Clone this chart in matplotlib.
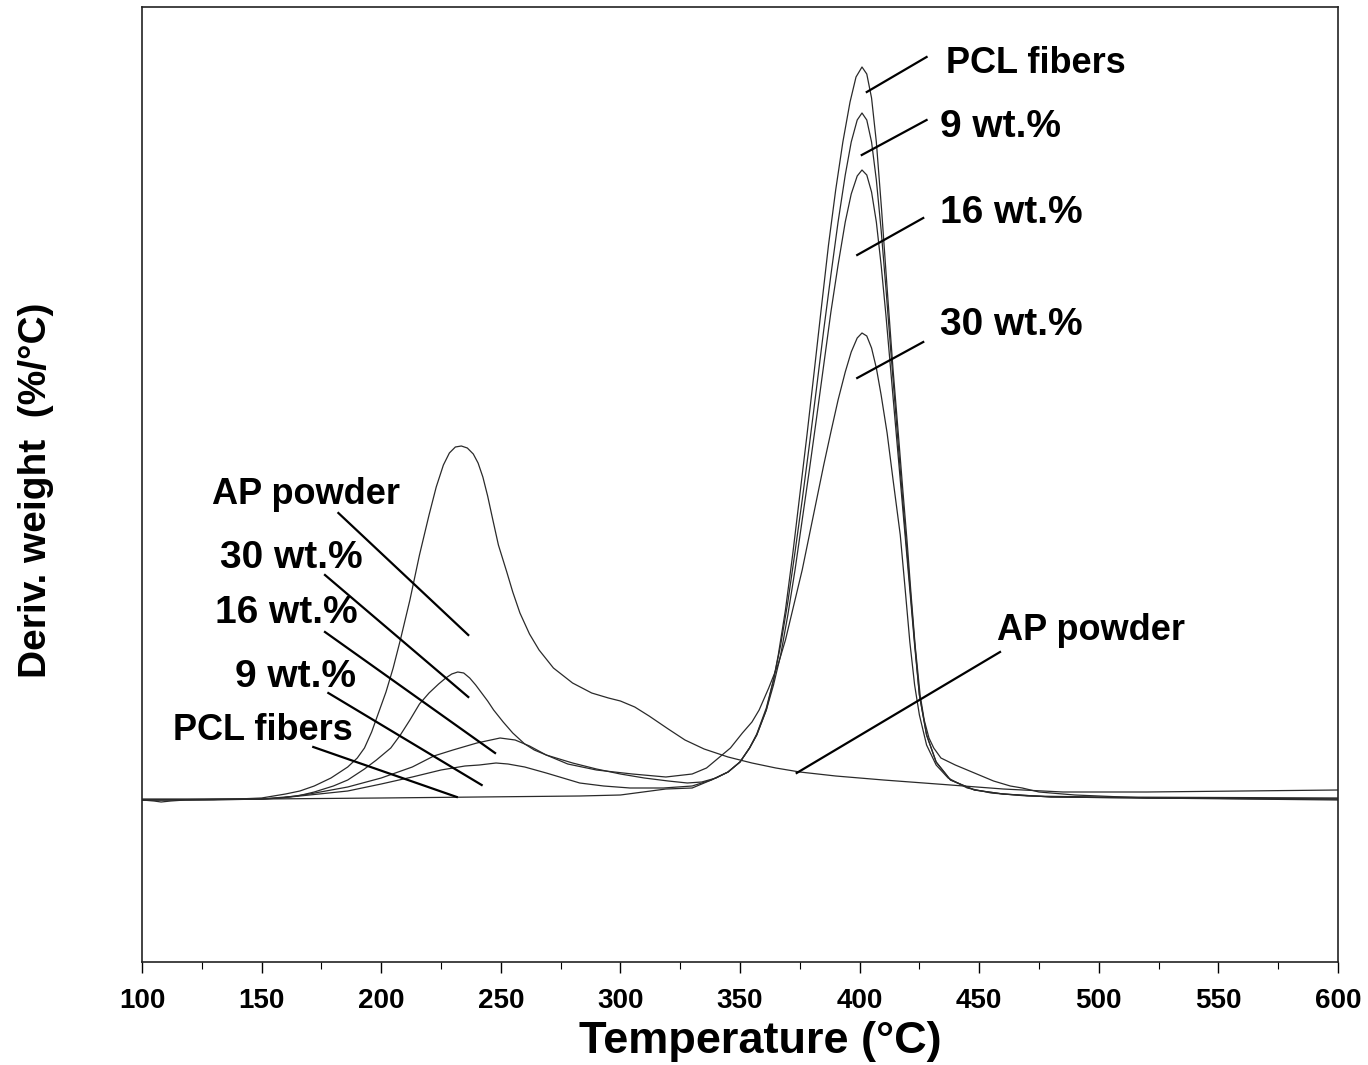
import matplotlib
matplotlib.use("Agg")
import matplotlib.pyplot as plt
from matplotlib.ticker import MultipleLocator

plt.rcParams['font.family'] = ['Liberation Sans', 'DejaVu Sans']
plt.rcParams['font.weight'] = 'bold'

# ---------------- data (temperature in degC, derivative weight in arbitrary %/degC units) ----------------
ap_T = [100, 105, 108, 112, 118, 140, 150, 160, 166, 172, 179, 186, 190, 193, 196, 199, 202, 205, 208,
        212, 216, 220, 223, 226, 228.5, 231, 233.5, 236, 238.5, 240.5, 242.5, 244.5, 246.5, 249, 252.5,
        255, 258, 262, 266, 272, 280, 288, 295, 300, 306, 312, 320, 327, 335, 345, 355, 365, 375, 390,
        410, 438, 460, 485, 520, 560, 600]
ap_v = [0.00, -0.01, -0.02, -0.01, 0.00, 0.01, 0.02, 0.06, 0.09, 0.14, 0.22, 0.33, 0.42, 0.52, 0.68,
        0.88, 1.08, 1.32, 1.60, 2.00, 2.45, 2.85, 3.13, 3.35, 3.47, 3.53, 3.54, 3.52, 3.46, 3.37, 3.23,
        3.04, 2.82, 2.55, 2.28, 2.08, 1.87, 1.66, 1.50, 1.32, 1.17, 1.07, 1.02, 0.99, 0.93, 0.84, 0.71,
        0.60, 0.51, 0.43, 0.37, 0.32, 0.28, 0.24, 0.20, 0.15, 0.11, 0.08, 0.08, 0.09, 0.10]

w30_T = [100, 130, 150, 165, 172, 180, 186, 193, 198, 204, 208, 212, 216, 220, 224, 227, 229.5, 232,
         234.5, 237, 239.5, 242, 244.5, 247, 251, 255, 260, 264, 269, 278, 290, 305, 319, 330, 336, 340,
         346, 351, 355, 358, 362, 366, 369, 372, 376, 379, 382, 385, 388, 391, 394, 396.5, 399, 401,
         403, 405, 407, 409, 411.5, 414, 417, 419, 421, 423, 425, 428, 432, 437, 445, 455, 470, 500, 600]
w30_v = [0.00, 0.00, 0.01, 0.04, 0.08, 0.14, 0.20, 0.31, 0.40, 0.52, 0.65, 0.80, 0.96, 1.07, 1.16, 1.22,
         1.26, 1.28, 1.27, 1.22, 1.15, 1.07, 0.99, 0.90, 0.78, 0.67, 0.56, 0.50, 0.45, 0.36, 0.30, 0.26,
         0.23, 0.26, 0.32, 0.40, 0.52, 0.67, 0.78, 0.90, 1.12, 1.36, 1.60, 1.90, 2.30, 2.65, 3.00, 3.35,
         3.68, 4.00, 4.28, 4.48, 4.62, 4.67, 4.64, 4.52, 4.32, 4.05, 3.67, 3.20, 2.65, 2.12, 1.58, 1.15,
         0.85, 0.55, 0.35, 0.22, 0.12, 0.07, 0.04, 0.03, 0.02]

w16_T = [100, 150, 158, 170, 186, 200, 213, 222, 230, 240, 249.7, 256, 262, 269, 280, 290, 300, 310, 320,
         328, 334, 340, 345, 350, 354, 357, 361, 364, 367, 370, 373, 376, 379, 382, 385, 388, 391, 394,
         396.5, 399, 401, 403, 405, 407, 409, 411, 413, 415, 417, 419, 421, 423, 425, 428, 432, 438, 448,
         460, 480, 520, 600]
w16_v = [0.00, 0.01, 0.02, 0.06, 0.13, 0.22, 0.33, 0.44, 0.50, 0.57, 0.62, 0.60, 0.54, 0.45, 0.37, 0.31,
         0.26, 0.22, 0.19, 0.17, 0.18, 0.22, 0.28, 0.38, 0.52, 0.65, 0.90, 1.15, 1.45, 1.85, 2.30, 2.80,
         3.30, 3.82, 4.35, 4.88, 5.35, 5.78, 6.06, 6.24, 6.30, 6.25, 6.08, 5.78, 5.35, 4.85, 4.30, 3.75,
         3.20, 2.65, 2.10, 1.55, 1.05, 0.65, 0.38, 0.20, 0.10, 0.06, 0.03, 0.02, 0.01]

w9_T = [100, 150, 158, 170, 186, 200, 213, 225, 235, 241, 248, 253, 260, 269, 276, 283, 293, 304, 318,
        330, 338, 345, 350, 354, 357, 361, 364, 367, 370, 373, 376, 379, 382, 385, 388, 391, 394, 396.5,
        399, 401, 403, 405, 407, 409, 411, 413, 415, 417, 419, 421, 423, 425, 428, 432, 438, 448, 460,
        480, 520, 600]
w9_v = [0.00, 0.01, 0.02, 0.05, 0.09, 0.16, 0.23, 0.30, 0.34, 0.35, 0.37, 0.36, 0.33, 0.27, 0.22, 0.17,
        0.14, 0.12, 0.12, 0.14, 0.20, 0.28, 0.38, 0.52, 0.66, 0.92, 1.20, 1.55, 1.98, 2.48, 3.00, 3.55,
        4.12, 4.70, 5.25, 5.78, 6.25, 6.58, 6.80, 6.87, 6.80, 6.58, 6.20, 5.70, 5.12, 4.50, 3.90, 3.30,
        2.72, 2.15, 1.58, 1.05, 0.65, 0.38, 0.20, 0.10, 0.06, 0.03, 0.02, 0.01]

pcl_T = [100, 150, 200, 241, 283, 300, 319, 330, 338, 345, 350, 354, 357, 361, 364, 366, 369, 372, 375,
         378, 381, 384, 387, 390, 393, 396, 398.5, 401, 403, 405, 407, 409.2, 411.5, 414, 416.4, 418,
         419.8, 421.5, 423.2, 425.3, 427, 429, 431, 434, 440, 448, 456, 463, 468, 475, 490, 520, 600]
pcl_v = [0.01, 0.01, 0.02, 0.03, 0.04, 0.05, 0.11, 0.12, 0.20, 0.28, 0.38, 0.52, 0.65, 0.90, 1.20, 1.45,
         1.90, 2.45, 3.05, 3.65, 4.28, 4.92, 5.55, 6.10, 6.58, 6.98, 7.23, 7.33, 7.26, 7.02, 6.58, 5.90,
         5.12, 4.30, 3.60, 3.12, 2.60, 2.06, 1.55, 1.05, 0.80, 0.62, 0.52, 0.42, 0.35, 0.27, 0.19, 0.14,
         0.12, 0.08, 0.05, 0.02, 0.00]

series = [
    (ap_T, ap_v),
    (w30_T, w30_v),
    (w16_T, w16_v),
    (w9_T, w9_v),
    (pcl_T, pcl_v),
]

x_ticks = [100, 150, 200, 250, 300, 350, 400, 450, 500, 550, 600]

label_texts = ["PCL fibers", "9 wt.%", "16 wt.%", "30 wt.%", "AP powder",
               "AP powder", "30 wt.%", "16 wt.%", "9 wt.%", "PCL fibers"]

# ---------------- layout ----------------
W, H = 1368, 1065
fig = plt.figure(figsize=(W / 100, H / 100), dpi=100)
ax = fig.add_axes([142 / W, 1 - 962 / H, (1338 - 142) / W, (962 - 7) / H])

for T, v in series:
    ax.plot(T, v, color='#2a2a2a', lw=0.9, solid_joinstyle='round', solid_capstyle='round')

ax.set_xlim(100, 600)
ax.set_ylim(-1.62, 7.93)

ax.set_xticks(x_ticks)
ax.xaxis.set_minor_locator(MultipleLocator(25))
ax.set_yticks([])
ax.tick_params(axis='x', which='major', direction='out', length=8, width=1.0, pad=11,
               labelsize=20, colors='black')
ax.tick_params(axis='x', which='minor', direction='out', length=5, width=0.8)
for lab in ax.get_xticklabels():
    lab.set_fontweight('bold')
for sp in ax.spines.values():
    sp.set_linewidth(1.2)
    sp.set_color('#222222')

ax.set_xlabel('Temperature (°C)', fontsize=32.5, fontweight='bold')
ax.xaxis.set_label_coords((760 - 142) / (1338 - 142), -(1062 - 962) / (962 - 7))
ax.xaxis.label.set_va('bottom')
ax.set_ylabel('Deriv. weight  (%/°C)', fontsize=28, fontweight='bold')
ax.yaxis.set_label_coords(-(142 - 36) / (1338 - 142), (962 - 490) / (962 - 7))
ax.yaxis.label.set_va('center')

layout = [
    # (text xy, ha, fontsize, line start, line end)
    ((436.1, 7.37), 'left', 26, (428.0, 7.43), (403.0, 7.08)),
    ((433.6, 6.73), 'left', 28, (428.0, 6.80), (400.9, 6.45)),
    ((433.6, 5.87), 'left', 28, (426.6, 5.82), (399.0, 5.45)),
    ((433.6, 4.75), 'left', 28, (426.6, 4.58), (399.0, 4.22)),
    ((457.4, 1.70), 'left', 26, (458.7, 1.48), (373.7, 0.27)),
    ((168.6, 3.05), 'center', 26, (182.1, 2.87), (236.4, 1.65)),
    ((162.3, 2.42), 'center', 28, (176.5, 2.25), (236.4, 1.03)),
    ((160.2, 1.87), 'center', 28, (176.5, 1.68), (247.6, 0.47)),
    ((164.0, 1.23), 'center', 28, (177.9, 1.07), (242.0, 0.15)),
    ((150.6, 0.70), 'center', 26, (171.6, 0.53), (231.6, 0.03)),
]
for txt, (xy, ha, fs, p0, p1) in zip(label_texts, layout):
    ax.text(xy[0], xy[1], txt, ha=ha, va='center', fontsize=fs, fontweight='bold', color='black')
    ax.plot([p0[0], p1[0]], [p0[1], p1[1]], color='black', lw=1.6)

fig.savefig('out.png', dpi=100)
